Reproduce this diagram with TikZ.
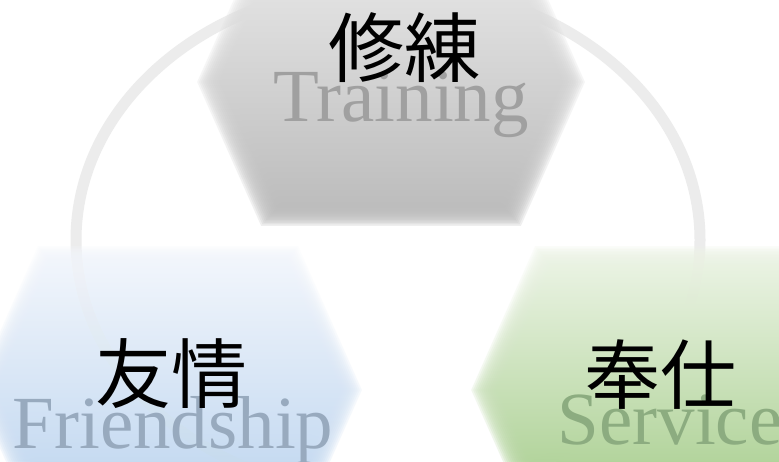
\documentclass[tikz,border=0pt]{standalone}
\usepackage{fontspec}
\setmainfont{Liberation Serif}
\newfontfamily\cjk{Noto Sans CJK JP}
\definecolor{arcgray}{RGB}{236,236,236}
\definecolor{gtop}{RGB}{234,234,234}
\definecolor{gbot}{RGB}{186,186,186}
\definecolor{btop}{RGB}{244,247,252}
\definecolor{bbot}{RGB}{184,210,238}
\definecolor{ntop}{RGB}{238,245,232}
\definecolor{nbot}{RGB}{160,202,132}
\definecolor{tgray}{RGB}{160,160,160}
\definecolor{tblue}{RGB}{152,170,190}
\definecolor{tgreen}{RGB}{140,172,128}
\tikzset{
  latin/.style={inner sep=0pt, anchor=base, font=\fontsize{75}{80}\selectfont},
  kanji/.style={inner sep=0pt, anchor=base, text=black, font=\cjk\fontsize{76}{80}\selectfont},
}
\newcommand{\hexblur}[4]{% cx, cy (image px), top colour, bottom colour
  \foreach \s in {0.90,0.911,0.922,0.933,0.944,0.955,0.966,0.977,0.988,0.999,1.01,1.021,1.032,1.043,1.054,1.065}{
    \begin{scope}[shift={(#1,461-#2)}, scale=\s]
      \shade[top color=#3, bottom color=#4, fill opacity=0.22]
        (-182,0) -- (-122,135) -- (122,135) -- (182,0) -- (122,-135) -- (-122,-135) -- cycle;
    \end{scope}
  }
}
\begin{document}
\begin{tikzpicture}[x=1pt,y=1pt]
\useasboundingbox (0,0) rectangle (779,461);
\clip (0,0) rectangle (779,461);
\fill[white] (0,0) rectangle (779,461);
% ring
\draw[arcgray, line width=11pt] (388,221) ellipse [x radius=312, y radius=255];
% hexagons
\hexblur{391}{82}{gtop}{gbot}
\hexblur{168}{390}{btop}{bbot}
\hexblur{665}{390}{ntop}{nbot}
% labels
\node[latin, text=tgray]  (tr) at (401,461-122) {Training};
\node[latin, text=tblue]  (fr) at (173,461-448) {Friendship};
\node[latin, text=tgreen] (sv) at (670,461-444) {Service};
\node[kanji] (k1) at (404,461-77) {修練};
\node[kanji] (k2) at (171,461-402) {友情};
\node[kanji] (k3) at (660,461-403) {奉仕};
\end{tikzpicture}
\end{document}
